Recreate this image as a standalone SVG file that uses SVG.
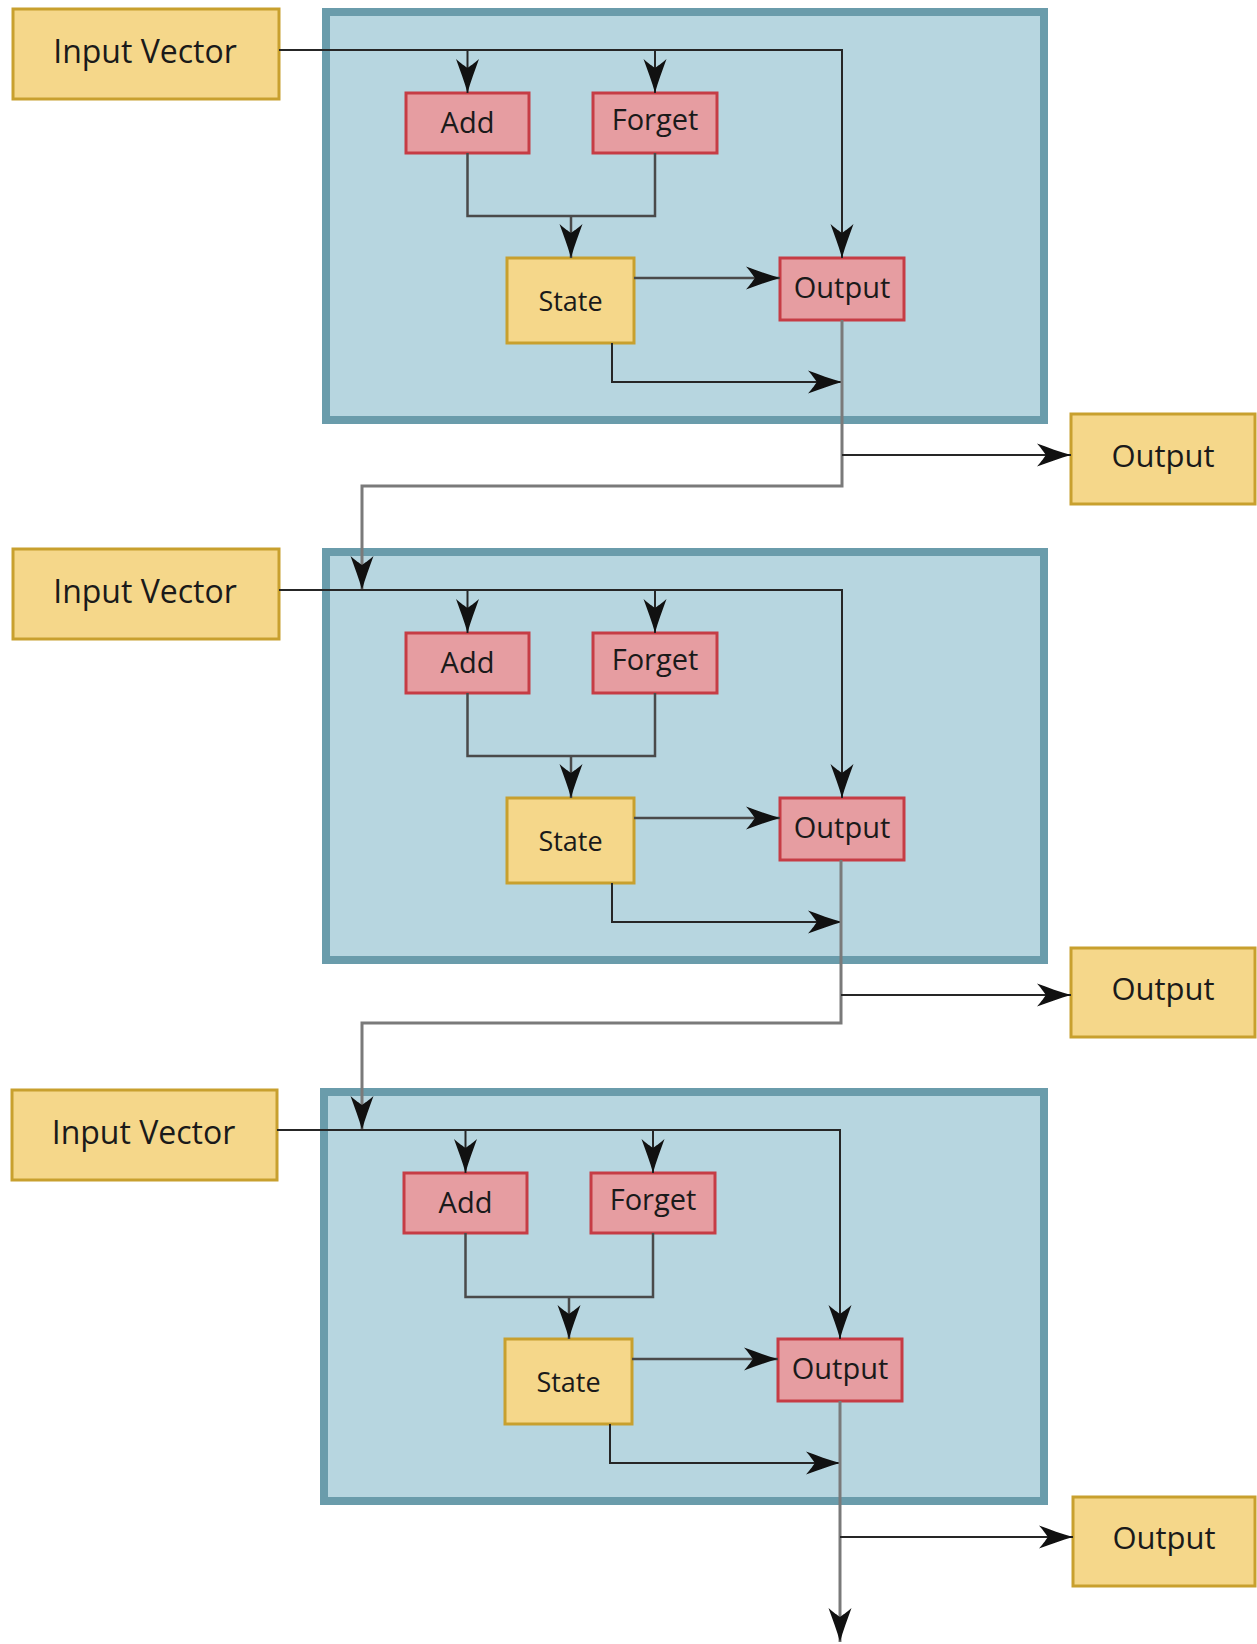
<svg xmlns="http://www.w3.org/2000/svg" width="1257" height="1644" viewBox="0 0 1257 1644">
<defs>
<style>
.cont{fill:#b7d6e0;stroke:#6a9cab;stroke-width:8}
.yel{fill:#f5d78a;stroke:#c8a02e;stroke-width:3}
.red{fill:#e69da1;stroke:#c63c45;stroke-width:3}
text{font-family:"Open Sans","Noto Sans","DejaVu Sans",sans-serif;fill:#1a1a1a;text-anchor:middle}
.t32{font-size:32px}.t29{font-size:29px}.t27{font-size:27px}.t31{font-size:31px}
.ln{fill:none;stroke:#262626;stroke-width:2}
.lm{fill:none;stroke:#4a4a4a;stroke-width:2.5}
.lg{fill:none;stroke:#7a7a7a;stroke-width:3}
</style>
<marker id="ah" markerUnits="userSpaceOnUse" markerWidth="40" markerHeight="26" viewBox="-36 -13 38 26" refX="0" refY="0" orient="auto" overflow="visible">
<path d="M0,0 C-11,-3 -23,-7.5 -34,-11.5 C-29,-6 -27,-2.5 -25,0 C-27,2.5 -29,6 -34,11.5 C-23,7.5 -11,3 0,0 Z" fill="#111"/>
</marker>
</defs>

<!-- Block 1 -->
<g id="cell1"><rect class="cont" x="326" y="12" width="718" height="408"/></g>
<g id="input1"><rect class="yel" x="13" y="9" width="266" height="90"/><text class="t32" x="145" y="63">Input Vector</text></g>
<g id="add1"><rect class="red" x="406" y="93" width="123" height="60"/><text class="t29" x="467.5" y="133">Add</text></g>
<g id="forget1"><rect class="red" x="593" y="93" width="124" height="60"/><text class="t29" x="655" y="130">Forget</text></g>
<g id="state1"><rect class="yel" x="507" y="258" width="127" height="85"/><text class="t27" x="570.5" y="311">State</text></g>
<g id="gate1"><rect class="red" x="780" y="258" width="124" height="62"/><text class="t29" x="842" y="298">Output</text></g>
<g id="out1"><rect class="yel" x="1071" y="414" width="184" height="90"/><text class="t31" x="1163" y="467">Output</text></g>

<!-- Block 2 -->
<g id="cell2"><rect class="cont" x="326" y="552" width="718" height="408"/></g>
<g id="input2"><rect class="yel" x="13" y="549" width="266" height="90"/><text class="t32" x="145" y="603">Input Vector</text></g>
<g id="add2"><rect class="red" x="406" y="633" width="123" height="60"/><text class="t29" x="467.5" y="673">Add</text></g>
<g id="forget2"><rect class="red" x="593" y="633" width="124" height="60"/><text class="t29" x="655" y="670">Forget</text></g>
<g id="state2"><rect class="yel" x="507" y="798" width="127" height="85"/><text class="t27" x="570.5" y="851">State</text></g>
<g id="gate2"><rect class="red" x="780" y="798" width="124" height="62"/><text class="t29" x="842" y="838">Output</text></g>
<g id="out2"><rect class="yel" x="1071" y="948" width="184" height="89"/><text class="t31" x="1163" y="1000">Output</text></g>

<!-- Block 3 -->
<g id="cell3"><rect class="cont" x="324" y="1092" width="720" height="409"/></g>
<g id="input3"><rect class="yel" x="12" y="1090" width="265" height="90"/><text class="t32" x="143.5" y="1144">Input Vector</text></g>
<g id="add3"><rect class="red" x="404" y="1173" width="123" height="60"/><text class="t29" x="465.5" y="1213">Add</text></g>
<g id="forget3"><rect class="red" x="591" y="1173" width="124" height="60"/><text class="t29" x="653" y="1210">Forget</text></g>
<g id="state3"><rect class="yel" x="505" y="1339" width="127" height="85"/><text class="t27" x="568.5" y="1392">State</text></g>
<g id="gate3"><rect class="red" x="778" y="1339" width="124" height="62"/><text class="t29" x="840" y="1379">Output</text></g>
<g id="out3"><rect class="yel" x="1073" y="1497" width="182" height="89"/><text class="t31" x="1164" y="1549">Output</text></g>

<g id="connectors">
<!-- block 1 -->
<path class="ln" d="M279,50 H842 V258" marker-end="url(#ah)"/>
<path class="ln" d="M467.5,50 V93" marker-end="url(#ah)"/>
<path class="ln" d="M655,50 V93" marker-end="url(#ah)"/>
<path class="lm" d="M467.5,153 V216 H655 V153"/>
<path class="lm" d="M571,216 V258" marker-end="url(#ah)"/>
<path class="lm" d="M634,278 H780" marker-end="url(#ah)"/>
<path class="ln" d="M612,343 V382 H842" marker-end="url(#ah)"/>
<path class="lg" d="M842,320 V486 H362 V590" marker-end="url(#ah)"/>
<path class="ln" d="M842,455 H1071" marker-end="url(#ah)"/>
<!-- block 2 -->
<path class="ln" d="M279,590 H842 V798" marker-end="url(#ah)"/>
<path class="ln" d="M467.5,590 V633" marker-end="url(#ah)"/>
<path class="ln" d="M655,590 V633" marker-end="url(#ah)"/>
<path class="lm" d="M467.5,693 V756 H655 V693"/>
<path class="lm" d="M571,756 V798" marker-end="url(#ah)"/>
<path class="lm" d="M634,818 H780" marker-end="url(#ah)"/>
<path class="ln" d="M612,883 V922 H842" marker-end="url(#ah)"/>
<path class="lg" d="M841,860 V1023 H362 V1130" marker-end="url(#ah)"/>
<path class="ln" d="M841,995 H1071" marker-end="url(#ah)"/>
<!-- block 3 -->
<path class="ln" d="M277,1130 H840 V1339" marker-end="url(#ah)"/>
<path class="ln" d="M465.5,1130 V1173" marker-end="url(#ah)"/>
<path class="ln" d="M653,1130 V1173" marker-end="url(#ah)"/>
<path class="lm" d="M465.5,1233 V1297 H653 V1233"/>
<path class="lm" d="M569,1297 V1339" marker-end="url(#ah)"/>
<path class="lm" d="M632,1359 H778" marker-end="url(#ah)"/>
<path class="ln" d="M610,1424 V1463 H840" marker-end="url(#ah)"/>
<path class="lg" d="M840,1401 V1642" marker-end="url(#ah)"/>
<path class="ln" d="M840,1537 H1073" marker-end="url(#ah)"/>
</g>
</svg>
